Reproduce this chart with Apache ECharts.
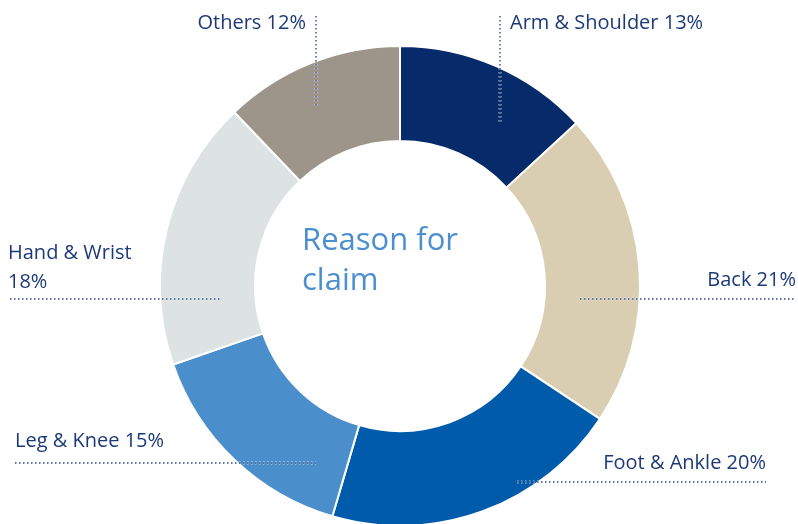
<!DOCTYPE html>
<html>
<head>
<meta charset="utf-8" />
<title>Reason for claim</title>
<script src="https://cdn.jsdelivr.net/npm/echarts@6/dist/echarts.min.js"></script>
<style>
  html, body { margin: 0; padding: 0; background: #fff; }
  #main { width: 798px; height: 524px; }
</style>
</head>
<body>
<div id="main"></div>
<script type="text/javascript">
// data
var names = ['Arm & Shoulder', 'Back', 'Foot & Ankle', 'Leg & Knee', 'Hand & Wrist', 'Others'];
var values = [13, 21, 20, 15, 18, 12];
var colors = ['#062a6a', '#d9cdb2', '#005bab', '#4a8fcc', '#dce3e2', '#9e958a'];

// label placement (x, y, align, leader line points)
var labelPos = [
    { x: 510, y: 23, align: 'left', line: [[500, 16], [500, 123]] },
    { x: 796, y: 280, align: 'right', line: [[580, 299], [796, 299]] },
    { x: 766, y: 463, align: 'right', line: [[517, 482], [766, 482]] },
    { x: 15, y: 441, align: 'left', line: [[15, 463], [316, 463]] },
    { x: 8, y: 268, align: 'left', line: [[10, 299], [220, 299]], wrap: true },
    { x: 306, y: 23, align: 'right', line: [[316, 16], [316, 108]] }
];

var chartData = names.map(function (n, i) {
    return { name: n, value: values[i], itemStyle: { color: colors[i] } };
});

// dotted leader lines, drawn over the ring (light halo so they show on dark slices)
var leaders = [];
labelPos.forEach(function (lp) {
    leaders.push({
        type: 'polyline', z: 100, silent: true,
        shape: { points: lp.line },
        style: { stroke: 'rgba(255,255,255,0.75)', lineWidth: 3, lineDash: [1.5, 2.5], fill: null }
    });
    leaders.push({
        type: 'polyline', z: 101, silent: true,
        shape: { points: lp.line },
        style: { stroke: '#2a4a8a', lineWidth: 1.4, lineDash: [1.5, 2.5], fill: null }
    });
});

var myChart = echarts.init(document.getElementById('main'));

var option = {
    animation: false,
    graphic: [{
        type: 'text',
        left: 302,
        top: 221,
        style: {
            text: 'Reason for\nclaim',
            fill: '#4a8fd0',
            font: '31px "Open Sans"',
            lineHeight: 40
        }
    }].concat(leaders),
    series: [{
        type: 'pie',
        center: [400, 286],
        radius: [145, 240],
        startAngle: 90,
        clockwise: true,
        avoidLabelOverlap: false,
        itemStyle: {
            borderColor: '#fff',
            borderWidth: 2
        },
        label: {
            show: true,
            position: 'outside',
            color: '#1d3a78',
            fontFamily: 'Open Sans',
            fontSize: 20,
            lineHeight: 29,
            formatter: function (p) {
                var sep = labelPos[p.dataIndex].wrap ? '\n' : ' ';
                return p.name + sep + p.value + '%';
            }
        },
        labelLine: { show: false },
        labelLayout: function (params) {
            var lp = labelPos[params.dataIndex];
            return {
                x: lp.x,
                y: lp.y,
                align: lp.align,
                verticalAlign: 'middle'
            };
        },
        data: chartData
    }]
};

myChart.setOption(option);
</script>
</body>
</html>
